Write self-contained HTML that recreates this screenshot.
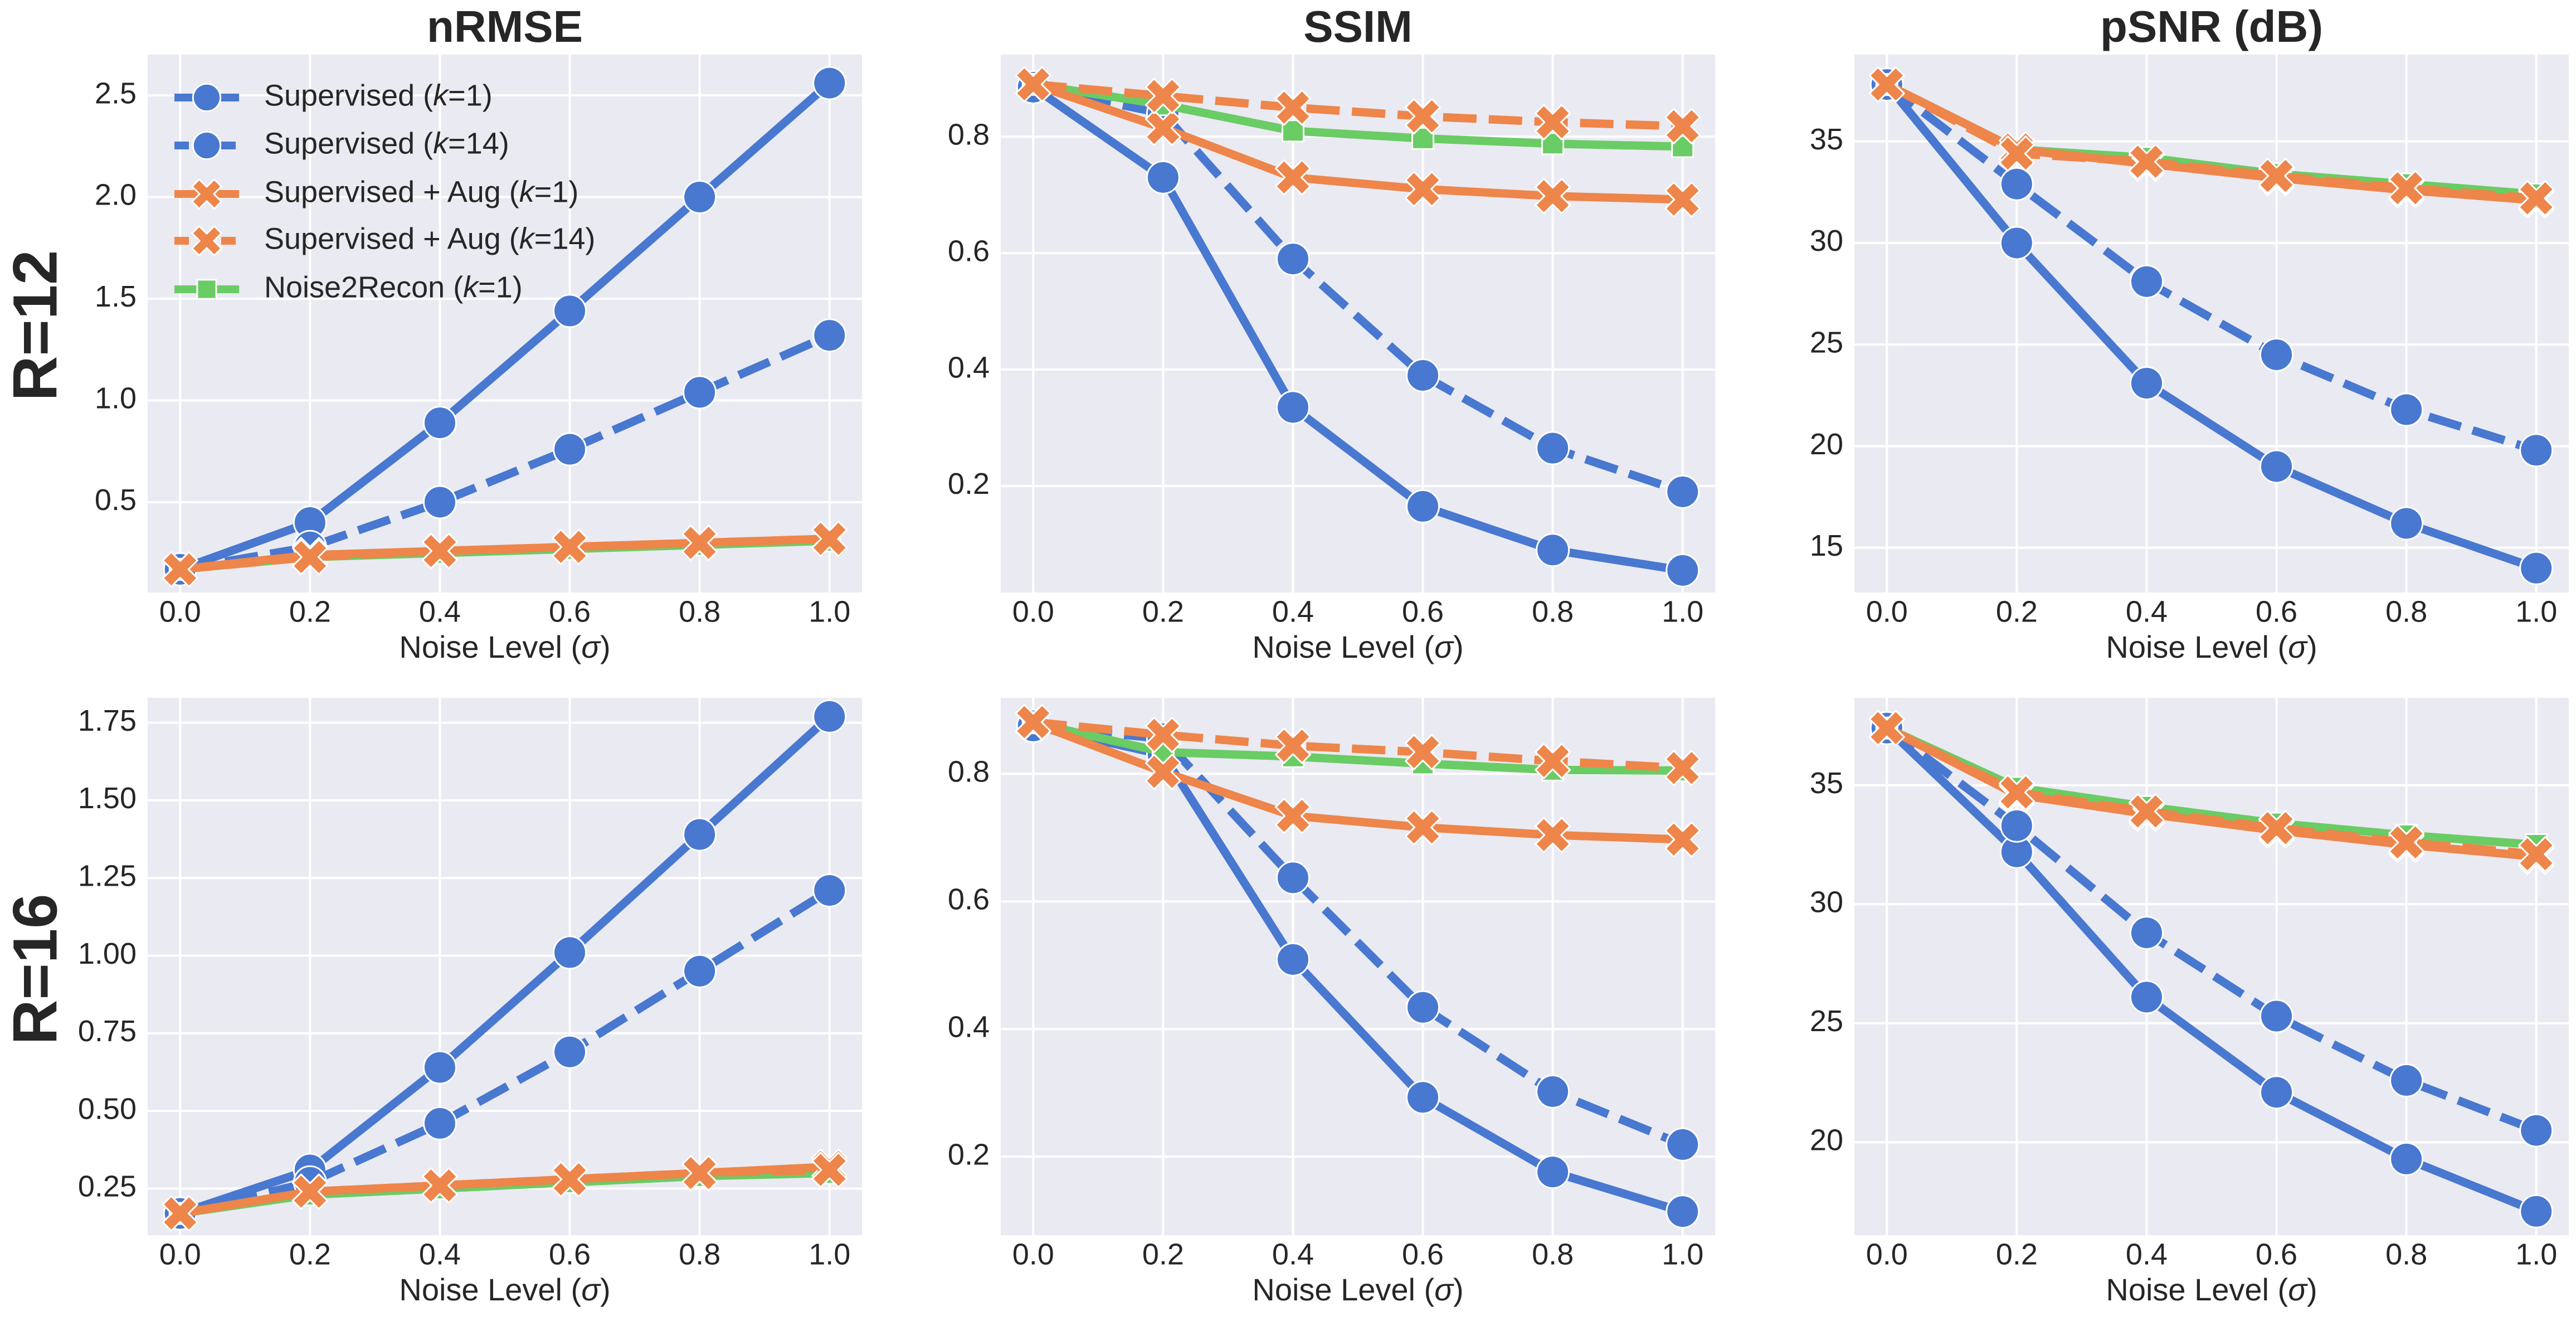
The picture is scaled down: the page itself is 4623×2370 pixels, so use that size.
<!DOCTYPE html>
<html><head><meta charset="utf-8"><style>
html,body{margin:0;padding:0;background:#fff;}
svg{display:block;font-family:"Liberation Sans",sans-serif;}
</style></head><body>
<svg id="fig" width="4623" height="2370" viewBox="0 0 4623 2370" xmlns="http://www.w3.org/2000/svg"></svg>
<script>
const noiseLevels = [0.0, 0.2, 0.4, 0.6, 0.8, 1.0];
const seriesNames = ["Supervised (k=1)", "Supervised (k=14)", "Supervised + Aug (k=1)", "Supervised + Aug (k=14)", "Noise2Recon (k=1)"];
// R=12
const nrmseR12_sup1 = [0.17, 0.40, 0.89, 1.44, 2.00, 2.56];
const nrmseR12_sup14 = [0.17, 0.28, 0.50, 0.76, 1.04, 1.32];
const nrmseR12_aug1 = [0.17, 0.24, 0.26, 0.28, 0.30, 0.32];
const nrmseR12_aug14 = [0.17, 0.23, 0.26, 0.28, 0.30, 0.32];
const nrmseR12_n2r = [0.17, 0.23, 0.25, 0.27, 0.29, 0.31];
const ssimR12_sup1 = [0.885, 0.73, 0.335, 0.165, 0.09, 0.055];
const ssimR12_sup14 = [0.885, 0.84, 0.59, 0.39, 0.265, 0.19];
const ssimR12_aug1 = [0.89, 0.815, 0.73, 0.71, 0.698, 0.692];
const ssimR12_aug14 = [0.89, 0.87, 0.85, 0.835, 0.825, 0.818];
const ssimR12_n2r = [0.89, 0.855, 0.81, 0.797, 0.788, 0.783];
const psnrR12_sup1 = [37.8, 30.0, 23.1, 19.0, 16.2, 14.0];
const psnrR12_sup14 = [37.8, 32.9, 28.1, 24.5, 21.8, 19.8];
const psnrR12_aug1 = [37.8, 34.6, 33.9, 33.2, 32.6, 32.1];
const psnrR12_aug14 = [37.8, 34.4, 34.0, 33.3, 32.7, 32.2];
const psnrR12_n2r = [37.8, 34.6, 34.2, 33.4, 32.9, 32.4];
// R=16
const nrmseR16_sup1 = [0.17, 0.31, 0.64, 1.01, 1.39, 1.77];
const nrmseR16_sup14 = [0.17, 0.27, 0.46, 0.69, 0.95, 1.21];
const nrmseR16_aug1 = [0.17, 0.24, 0.26, 0.28, 0.30, 0.32];
const nrmseR16_aug14 = [0.17, 0.24, 0.26, 0.28, 0.30, 0.31];
const nrmseR16_n2r = [0.17, 0.23, 0.25, 0.27, 0.29, 0.30];
const ssimR16_sup1 = [0.875, 0.83, 0.509, 0.293, 0.176, 0.114];
const ssimR16_sup14 = [0.875, 0.855, 0.637, 0.434, 0.302, 0.219];
const ssimR16_aug1 = [0.88, 0.803, 0.734, 0.716, 0.704, 0.697];
const ssimR16_aug14 = [0.881, 0.861, 0.844, 0.834, 0.82, 0.809];
const ssimR16_n2r = [0.88, 0.834, 0.827, 0.816, 0.806, 0.805];
const psnrR16_sup1 = [37.4, 32.2, 26.1, 22.1, 19.3, 17.1];
const psnrR16_sup14 = [37.4, 33.3, 28.8, 25.3, 22.6, 20.5];
const psnrR16_aug1 = [37.4, 34.6, 33.8, 33.1, 32.5, 32.0];
const psnrR16_aug14 = [37.4, 34.7, 33.9, 33.2, 32.6, 32.1];
const psnrR16_n2r = [37.4, 34.9, 34.1, 33.4, 32.9, 32.5];
const xTickLabels = ["0.0","0.2","0.4","0.6","0.8","1.0"];
const nrmseR12Ticks = [0.5, 1.0, 1.5, 2.0, 2.5];
const ssimTicks = [0.2, 0.4, 0.6, 0.8];
const psnrR12Ticks = [15, 20, 25, 30, 35];
const nrmseR16Ticks = [0.25, 0.5, 0.75, 1.0, 1.25, 1.5, 1.75];
const psnrR16Ticks = [20, 25, 30, 35];

const NS = "http://www.w3.org/2000/svg";
const svg = document.getElementById("fig");
function mk(tag, attrs, parent) {
  const e = document.createElementNS(NS, tag);
  for (const k in attrs) e.setAttribute(k, attrs[k]);
  (parent || svg).appendChild(e);
  return e;
}
const COL = {blue:"#4878d0", orange:"#ee854a", green:"#6acc64"};
const styles = [
  {c:COL.blue, dash:null, m:"circle"},
  {c:COL.blue, dash:"60 22", m:"circle"},
  {c:COL.orange, dash:null, m:"x"},
  {c:COL.orange, dash:"60 22", m:"x"},
  {c:COL.green, dash:null, m:"square"}
];
const drawOrder = [0, 1, 4, 2, 3];
function marker(g, type, cx, cy, color, scale) {
  scale = scale || 1;
  let e;
  if (type === "circle") {
    e = mk("circle", {cx:cx, cy:cy, r:29*scale, fill:color, stroke:"#fff", "stroke-width":3}, g);
  } else if (type === "square") {
    const s = 19*scale;
    e = mk("rect", {x:cx-s, y:cy-s, width:2*s, height:2*s, fill:color, stroke:"#fff", "stroke-width":3}, g);
  } else {
    const a = 31*scale, w = 15*scale;
    const p = [[-a,-a+w],[-a+w,-a],[0,-w],[a-w,-a],[a,-a+w],[w,0],[a,a-w],[a-w,a],[0,w],[-a+w,a],[-a,a-w],[-w,0]];
    e = mk("polygon", {points:p.map(q=>(cx+q[0])+","+(cy+q[1])).join(" "), fill:color, stroke:"#fff", "stroke-width":3, "stroke-linejoin":"round"}, g);
  }
  return e;
}
const colLefts = [265, 1796, 3328];
const rows = [{top:98, bottom:1063}, {top:1252, bottom:2216}];
const W = 1282;
const panels = [
  {name:"nrmse-r12", col:0, row:0, ylim:[0.056, 2.70], ticks:nrmseR12Ticks, fmt:v=>v.toFixed(1), data:[nrmseR12_sup1,nrmseR12_sup14,nrmseR12_aug1,nrmseR12_aug14,nrmseR12_n2r], title:"nRMSE"},
  {name:"ssim-r12", col:1, row:0, ylim:[0.017, 0.941], ticks:ssimTicks, fmt:v=>v.toFixed(1), data:[ssimR12_sup1,ssimR12_sup14,ssimR12_aug1,ssimR12_aug14,ssimR12_n2r], title:"SSIM"},
  {name:"psnr-r12", col:2, row:0, ylim:[12.8, 39.27], ticks:psnrR12Ticks, fmt:v=>String(v), data:[psnrR12_sup1,psnrR12_sup14,psnrR12_aug1,psnrR12_aug14,psnrR12_n2r], title:"pSNR (dB)"},
  {name:"nrmse-r16", col:0, row:1, ylim:[0.10, 1.83], ticks:nrmseR16Ticks, fmt:v=>v.toFixed(2), data:[nrmseR16_sup1,nrmseR16_sup14,nrmseR16_aug1,nrmseR16_aug14,nrmseR16_n2r]},
  {name:"ssim-r16", col:1, row:1, ylim:[0.077, 0.919], ticks:ssimTicks, fmt:v=>v.toFixed(1), data:[ssimR16_sup1,ssimR16_sup14,ssimR16_aug1,ssimR16_aug14,ssimR16_n2r]},
  {name:"psnr-r16", col:2, row:1, ylim:[16.1, 38.67], ticks:psnrR16Ticks, fmt:v=>String(v), data:[psnrR16_sup1,psnrR16_sup14,psnrR16_aug1,psnrR16_aug14,psnrR16_n2r]}
];
panels.forEach(p => {
  const L = colLefts[p.col], T = rows[p.row].top, B = rows[p.row].bottom;
  const xs = v => L + (v + 0.05) / 1.1 * W;
  const ys = v => B - (v - p.ylim[0]) / (p.ylim[1] - p.ylim[0]) * (B - T);
  const g = mk("g", {});
  
  
  const bg = mk("rect", {x:L, y:T, width:W, height:B-T, fill:"#eaeaf2"}, g);
  
  
  noiseLevels.forEach((v,i) => {
    const gl = mk("line", {x1:xs(v), x2:xs(v), y1:T, y2:B, stroke:"#fff", "stroke-width":4}, g);
    
    
    const t = mk("text", {x:xs(v), y:B+38, "font-size":54, fill:"#262626", "text-anchor":"middle", "dominant-baseline":"middle"}, g);
    t.textContent = xTickLabels[i];
    
    
  });
  p.ticks.forEach(v => {
    const gl = mk("line", {x1:L, x2:L+W, y1:ys(v), y2:ys(v), stroke:"#fff", "stroke-width":4}, g);
    
    
    const t = mk("text", {x:L-20, y:ys(v), "font-size":54, fill:"#262626", "text-anchor":"end", "dominant-baseline":"middle"}, g);
    t.textContent = p.fmt(v);
    
    
  });
  const xl = mk("text", {x:L+W/2, y:B+102, "font-size":56, fill:"#262626", "text-anchor":"middle", "dominant-baseline":"middle"}, g);
  xl.innerHTML = 'Noise Level (<tspan font-style="italic">σ</tspan>)';
  
  
  if (p.title) {
    const tt = mk("text", {x:L+W/2, y:54, "font-size":80, "font-weight":"bold", fill:"#262626", "text-anchor":"middle", "dominant-baseline":"middle"}, g);
    tt.textContent = p.title;
    
    
  }
  const clip = mk("clipPath", {id:"clip-"+p.name}, g);
  mk("rect", {x:L, y:T, width:W, height:B-T}, clip);
  const sg = mk("g", {"clip-path":"url(#clip-"+p.name+")"}, g);
  drawOrder.forEach(si => {
    const arr = p.data[si];
    const st = styles[si];
    const pts = arr.map((v,i) => xs(noiseLevels[i]) + "," + ys(v)).join(" ");
    const line = mk("polyline", {points:pts, fill:"none", stroke:st.c, "stroke-width":15, "stroke-linejoin":"round", "stroke-linecap":st.dash?"butt":"round"}, sg);
    if (st.dash) line.setAttribute("stroke-dasharray", st.dash);
    
    
    arr.forEach((v,i) => {
      const m = marker(sg, st.m, xs(noiseLevels[i]), ys(v), st.c);
      
      
    });
  });
  if (p.name === "nrmse-r12") {
    const lg = mk("g", {});
    
    
    const ly = [175, 261, 348, 432, 519];
    const labels = ["Supervised (<tspan font-style='italic'>k</tspan>=1)","Supervised (<tspan font-style='italic'>k</tspan>=14)","Supervised + Aug (<tspan font-style='italic'>k</tspan>=1)","Supervised + Aug (<tspan font-style='italic'>k</tspan>=14)","Noise2Recon (<tspan font-style='italic'>k</tspan>=1)"];
    styles.forEach((st, i) => {
      const eg = mk("g", {}, lg);
      
      
      const ln = mk("line", {x1:313, x2:429, y1:ly[i], y2:ly[i], stroke:st.c, "stroke-width":14}, eg);
      if (st.dash) ln.setAttribute("stroke-dasharray", "26 16");
      marker(eg, st.m, 371, ly[i], st.c, st.m==="square"?0.9:0.85);
      const t = mk("text", {x:474, y:ly[i], "font-size":54, fill:"#262626", "dominant-baseline":"middle"}, eg);
      t.innerHTML = labels[i];
    });
  }
});
[["R=12", 584], ["R=16", 1739]].forEach(r => {
  const t = mk("text", {x:0, y:0, "font-size":112, "font-weight":"bold", fill:"#262626", "text-anchor":"middle", "dominant-baseline":"middle", transform:"translate(72," + r[1] + ") rotate(-90)"});
  t.textContent = r[0];
  
  
});
</script>
</body></html>
